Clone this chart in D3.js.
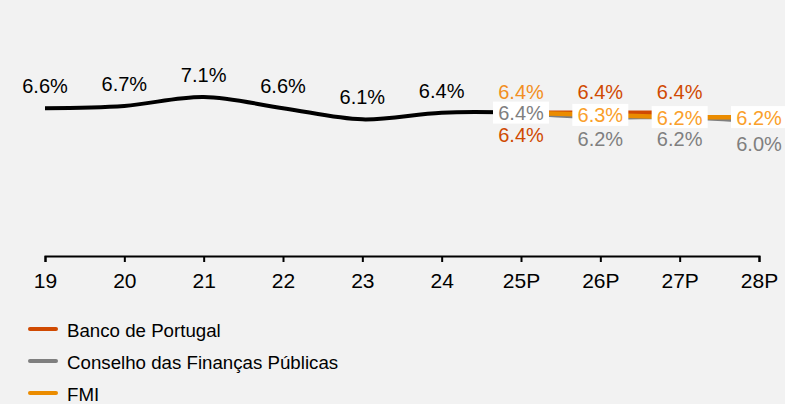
<!DOCTYPE html>
<meta charset="utf-8">
<style>
body { margin: 0; background: #f2f2f2; }
text { font-family: "Liberation Sans", Arial, sans-serif; }
</style>
<body>
<script src="https://cdn.jsdelivr.net/npm/d3@7"></script>
<script>

// ---- data ----
var years = ["19", "20", "21", "22", "23", "24", "25P", "26P", "27P", "28P"];
var historico = [6.6, 6.7, 7.1, 6.6, 6.1, 6.4, 6.4];          // 19 .. 25P
var bdp = [6.4, 6.4, 6.4];                                   // 25P .. 27P
var cfp = [6.4, 6.2, 6.2, 6.0];                              // 25P .. 28P
var fmi = [6.4, 6.3, 6.2, 6.2];                              // 25P .. 28P
var forecastYears = ["25P", "26P", "27P", "28P"];
var seriesNames = ["Banco de Portugal", "Conselho das Finanças Públicas", "FMI"];

// label placement per series (above / mid / below the point)
var bdpPos = ["below", "above", "above"];
var cfpPos = ["mid", "below", "below", "below"];
var fmiPos = ["above", "mid", "mid", "mid"];

var colors = { bdp: "#D04A02", cfp: "#7f7f7f", fmi: "#EB8C00" };
var labelColors = { bdp: "#D04A02", cfp: "#7f7f7f", fmi: "#FAA02A" };

// ---- setup ----
var width = 785, height = 404;
var svg = d3.select("body").append("svg")
    .attr("width", width)
    .attr("height", height);

var x = d3.scalePoint()
    .domain(years)
    .range([45, 759]);

var y = d3.scaleLinear()
    .domain([0, 10])
    .range([256, 32]);

var line = d3.line()
    .x(function(d) { return x(d.year); })
    .y(function(d) { return y(d.value); })
    .curve(d3.curveCatmullRom.alpha(0.5));

function pts(yrs, vals) {
  return vals.map(function(v, i) { return { year: yrs[i], value: v }; });
}

// x axis
var axis = svg.append("g")
    .attr("transform", "translate(0," + y(0) + ")")
    .call(d3.axisBottom(x).tickSize(6).tickPadding(11));
axis.select(".domain").attr("stroke", "#000").attr("stroke-width", 2);
axis.selectAll(".tick line").attr("stroke", "#000").attr("stroke-width", 2);
axis.selectAll(".tick text")
    .attr("fill", "#000")
    .style("font-size", "21px")
    .style("font-family", "'Liberation Sans', Arial, sans-serif");

// lines
svg.append("path")
    .datum(pts(years, historico))
    .attr("fill", "none")
    .attr("stroke", "#000")
    .attr("stroke-width", 4)
    .attr("d", line);

svg.append("path")
    .datum(pts(forecastYears, cfp))
    .attr("fill", "none")
    .attr("stroke", colors.cfp)
    .attr("stroke-width", 4.5)
    .attr("d", line);

svg.append("path")
    .datum(pts(forecastYears, bdp))
    .attr("fill", "none")
    .attr("stroke", colors.bdp)
    .attr("stroke-width", 4.5)
    .attr("d", line);

svg.append("path")
    .datum(pts(forecastYears, fmi))
    .attr("fill", "none")
    .attr("stroke", colors.fmi)
    .attr("stroke-width", 4.5)
    .attr("d", line);

// historic labels
var fmt = function(v) { return v.toFixed(1) + "%"; };
svg.selectAll(".hlabel")
    .data(pts(years.slice(0, 6), historico.slice(0, 6)))
    .enter().append("text")
    .attr("class", "hlabel")
    .attr("x", function(d) { return x(d.year); })
    .attr("y", function(d) { return y(d.value) - 15; })
    .attr("text-anchor", "middle")
    .style("font-size", "20px")
    .attr("fill", "#000")
    .text(function(d) { return fmt(d.value); });

// forecast labels
function addLabels(vals, pos, color) {
  var g = svg.append("g");
  vals.forEach(function(v, i) {
    var cx = x(forecastYears[i]), cy = y(v);
    var ty;
    if (pos[i] === "above") ty = cy - 14;
    else if (pos[i] === "below") ty = cy + 29;
    else {
      g.append("rect")
          .attr("x", cx - 28)
          .attr("y", cy - 11)
          .attr("width", 56)
          .attr("height", 22)
          .attr("fill", "#fff");
      ty = cy + 7.5;
    }
    g.append("text")
        .attr("x", cx)
        .attr("y", ty)
        .attr("text-anchor", "middle")
        .style("font-size", "20px")
        .attr("fill", typeof color === "function" ? color(i) : color)
        .text(fmt(v));
  });
}
addLabels(bdp, bdpPos, labelColors.bdp);
addLabels(cfp, cfpPos, labelColors.cfp);
// first FMI label overlaps a Banco de Portugal label in the original, so it looks blended
addLabels(fmi, fmiPos, function(i) {
  return i === 0 ? d3.interpolateRgb(labelColors.bdp, labelColors.fmi)(0.8) : labelColors.fmi;
});

// legend
var legend = svg.append("g")
  .selectAll("g")
  .data(seriesNames)
  .enter().append("g")
    .attr("transform", function(d, i) { return "translate(30," + (329 + i * 32) + ")"; });

legend.append("line")
    .attr("x1", 0).attr("x2", 26)
    .attr("stroke", function(d, i) { return [colors.bdp, colors.cfp, colors.fmi][i]; })
    .attr("stroke-width", 4)
    .attr("stroke-linecap", "round");

legend.append("text")
    .attr("x", 37)
    .attr("y", 8)
    .style("font-size", "18.7px")
    .attr("fill", "#000")
    .text(function(d) { return d; });

</script>
</body>
